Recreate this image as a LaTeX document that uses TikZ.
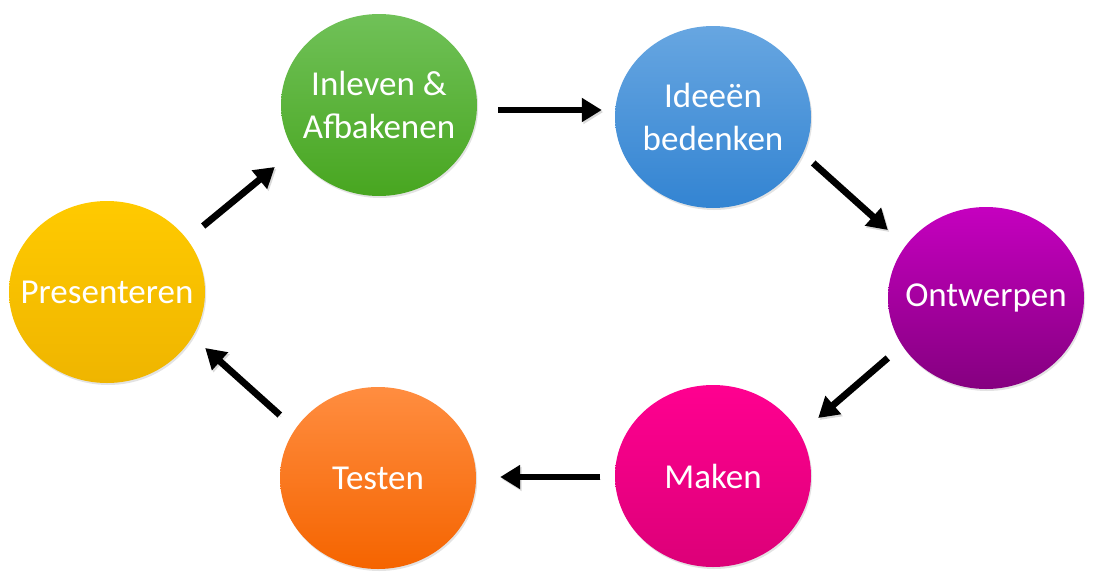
\documentclass[tikz,border=0pt]{standalone}
\usepackage{fontspec}
\setmainfont{Carlito}
\usetikzlibrary{shapes.geometric,arrows.meta,shadows}
\definecolor{gTop}{HTML}{70C158}
\definecolor{gBot}{HTML}{48A620}
\definecolor{bTop}{HTML}{67A6E1}
\definecolor{bBot}{HTML}{3384D2}
\definecolor{pTop}{HTML}{C500BF}
\definecolor{pBot}{HTML}{850080}
\definecolor{mTop}{HTML}{FF0090}
\definecolor{mBot}{HTML}{DC0078}
\definecolor{oTop}{HTML}{FF8D40}
\definecolor{oBot}{HTML}{F56400}
\definecolor{yTop}{HTML}{FFCA00}
\definecolor{yBot}{HTML}{EFB500}
\tikzset{
  blob/.style={ellipse, minimum width=196pt, minimum height=182pt, inner sep=0pt, draw=none,
    drop shadow={shadow xshift=1.2pt, shadow yshift=-2pt, opacity=0.22}},
  lbl/.style={text=white, align=center, font=\fontsize{35}{43}\selectfont, inner sep=0pt},
  arr/.style={line width=6.8pt, -{Triangle[length=20pt, width=23pt]},
    preaction={draw=black, opacity=0.15, transform canvas={shift={(1.5pt,-2pt)}}}}
}
\begin{document}
\begin{tikzpicture}[x=1pt, y=-1pt]
\useasboundingbox (0,0) rectangle (1093,579);
% circles
\node[blob, top color=gTop, bottom color=gBot] (g) at (379,105) {};
\node[blob, top color=bTop, bottom color=bBot] (b) at (713,117) {};
\node[blob, top color=pTop, bottom color=pBot] (o) at (986,298) {};
\node[blob, top color=mTop, bottom color=mBot] (m) at (713,476) {};
\node[blob, top color=oTop, bottom color=oBot] (t) at (378,478) {};
\node[blob, top color=yTop, bottom color=yBot] (p) at (107,292) {};
% labels
\node[lbl] (gl) at (g) {Inleven \&\\Afbakenen};
\node[lbl] (bl) at (b) {Ideeën\\bedenken};
\node[lbl] (ol) at (o) {Ontwerpen};
\node[lbl] (ml) at (m) {Maken};
\node[lbl] (tl) at (t) {Testen};
\node[lbl] (pl) at (p) {Presenteren};
% arrows
\draw[arr] ([shift={(21,5)}]g.east) -- ([shift={(-13,-7)}]b.west);
\draw[arr] ([shift={(2,46)}]b.east) -- ([shift={(0,-68)}]o.west);
\draw[arr] ([shift={(0,60)}]o.west) -- ([shift={(7,-58)}]m.east);
\draw[arr] ([shift={(-15,1)}]m.west) -- ([shift={(24,-1)}]t.east);
\draw[arr] ([shift={(0,-63)}]t.west) -- ([shift={(0,56)}]p.east);
\draw[arr] ([shift={(-2,-66)}]p.east) -- ([shift={(-6,62)}]g.west);
\end{tikzpicture}
\end{document}
